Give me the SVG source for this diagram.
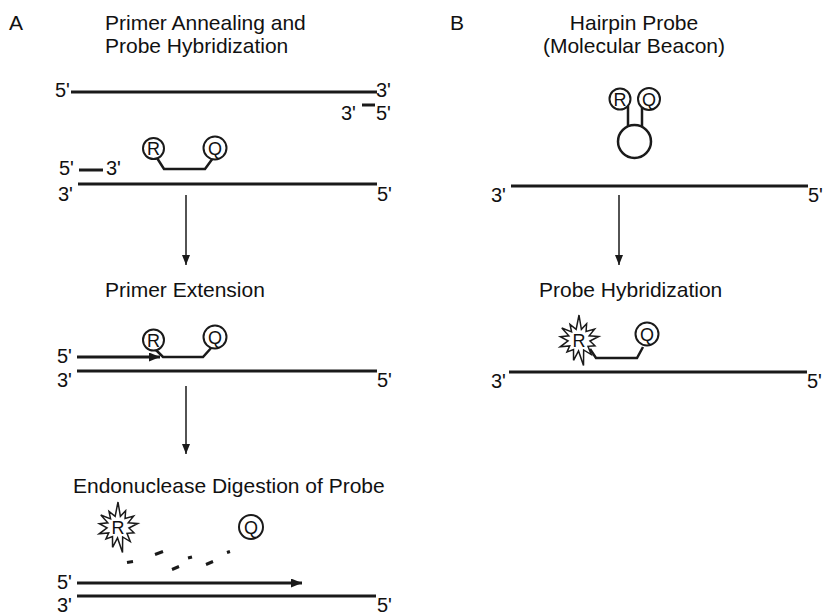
<svg xmlns="http://www.w3.org/2000/svg" width="825" height="613" viewBox="0 0 825 613">
<style>
text{font-family:"Liberation Sans",Arial,Helvetica,sans-serif;fill:#111;}
.t{font-size:21px;}
.l{font-size:20px;}
.c{font-size:18px;text-anchor:middle;}
.strand{stroke:#1a1a1a;stroke-width:3;fill:none;}
.probe{stroke:#1a1a1a;stroke-width:2.5;fill:none;stroke-linejoin:miter;}
.ring{stroke:#1a1a1a;stroke-width:2;fill:#fff;}
.arr{stroke:#1a1a1a;stroke-width:1.5;fill:none;}
.frag{stroke:#1a1a1a;stroke-width:3;fill:none;}
</style>
<defs>
<marker id="down" markerUnits="userSpaceOnUse" markerWidth="10" markerHeight="10" viewBox="0 0 10 8" refX="10" refY="4" orient="auto">
<path d="M0,0 L10,4 L0,8 z" fill="#1a1a1a"/>
</marker>
<marker id="prim" markerUnits="userSpaceOnUse" markerWidth="11" markerHeight="9" viewBox="0 0 11 9" refX="11" refY="4.5" orient="auto">
<path d="M0,0 L11,4.5 L0,9 z" fill="#1a1a1a"/>
</marker>
<polygon id="star" points="0,-25 2.38,-10.74 7.61,-16.31 7.07,-8.43 15.56,-10.9 10.16,-4.21 19.7,-3.47 10.96,0.96 15.97,5.81 9.01,6.31 12.21,14.55 4.65,9.97 4.51,25.61 -0.48,10.99 -5.44,20.28 -5.5,9.53 -12.02,12.02 -9.28,5.91 -18.79,6.84 -10.96,0.96 -18.71,-3.3 -10.16,-4.21 -17.2,-12.05 -7.43,-8.11 -9,-15.59 -2.85,-10.63" fill="#fff" stroke="#1a1a1a" stroke-width="1.5" stroke-linejoin="miter"/>
</defs>

<!-- Panel A -->
<g id="panelA-label"><text class="t" x="9" y="30">A</text></g>
<g id="stepA1-title">
<text class="t" x="105" y="30">Primer Annealing and</text>
<text class="t" x="105" y="53">Probe Hybridization</text>
</g>
<g id="stepA1">
<text class="l" x="55" y="97">5'</text>
<line class="strand" x1="71" y1="92" x2="377" y2="92"/>
<text class="l" x="376" y="97">3'</text>
<text class="l" x="341" y="120">3'</text>
<line class="strand" x1="362" y1="105" x2="375" y2="105"/>
<text class="l" x="376" y="120">5'</text>
<text class="l" x="59" y="175">5'</text>
<line class="strand" x1="79" y1="170" x2="103" y2="170"/>
<text class="l" x="106" y="175">3'</text>
<path class="probe" d="M157,158 L164,169 L205,169 L213,158"/>
<circle class="ring" cx="153.5" cy="148.5" r="10.5"/>
<text class="c" x="153.5" y="155">R</text>
<circle class="ring" cx="215" cy="148" r="11.5"/>
<text class="c" x="215" y="154.5">Q</text>
<line class="strand" x1="78" y1="184" x2="377" y2="184"/>
<text class="l" x="58" y="201">3'</text>
<text class="l" x="377" y="201">5'</text>
</g>
<g id="stepA2-title"><text class="t" x="105" y="297">Primer Extension</text></g>
<g id="stepA2">
<text class="l" x="57" y="363">5'</text>
<line class="strand" x1="77" y1="357" x2="160" y2="357" marker-end="url(#prim)"/>
<path class="probe" d="M155,349 L163,357 L203,357 L212,347"/>
<circle class="ring" cx="153.5" cy="340" r="10.5"/>
<text class="c" x="153.5" y="346.5">R</text>
<circle class="ring" cx="215" cy="337" r="11.5"/>
<text class="c" x="215" y="343.5">Q</text>
<line class="strand" x1="77" y1="371" x2="377" y2="371"/>
<text class="l" x="57" y="387">3'</text>
<text class="l" x="377" y="387">5'</text>
</g>
<g id="stepA3-title"><text class="t" x="73" y="493">Endonuclease Digestion of Probe</text></g>
<g id="stepA3">
<use href="#star" x="118" y="527"/>
<text class="c" x="118" y="533.5">R</text>
<circle class="ring" cx="251" cy="527" r="12"/>
<text class="c" x="251" y="533.5">Q</text>
<line class="frag" x1="127" y1="562.5" x2="133" y2="561.5"/>
<line class="frag" x1="155" y1="554.5" x2="163" y2="551.5"/>
<line class="frag" x1="172" y1="569.5" x2="179" y2="566.5"/>
<line class="frag" x1="188" y1="558" x2="192" y2="557"/>
<line class="frag" x1="206" y1="564.5" x2="213" y2="561.5"/>
<line class="frag" x1="227" y1="552.5" x2="230" y2="551.5"/>
<text class="l" x="57" y="589">5'</text>
<line class="strand" x1="77" y1="583" x2="302" y2="583" marker-end="url(#prim)"/>
<line class="strand" x1="77" y1="596" x2="376" y2="596"/>
<text class="l" x="57" y="612">3'</text>
<text class="l" x="377" y="612">5'</text>
</g>

<!-- Panel B -->
<g id="panelB-label"><text class="t" x="450" y="30">B</text></g>
<g id="stepB1-title">
<text class="t" x="634" y="30" text-anchor="middle">Hairpin Probe</text>
<text class="t" x="634" y="53" text-anchor="middle">(Molecular Beacon)</text>
</g>
<g id="stepB1">
<line class="probe" x1="628" y1="106" x2="628" y2="127"/>
<line class="probe" x1="642" y1="107" x2="642" y2="127"/>
<circle class="ring" cx="634.5" cy="141.5" r="16.5" style="stroke-width:2.5"/>
<circle class="ring" cx="620" cy="99" r="10.5"/>
<text class="c" x="620" y="105.5">R</text>
<circle class="ring" cx="649" cy="99" r="11"/>
<text class="c" x="649" y="105.5">Q</text>
<line class="strand" x1="511" y1="186" x2="808" y2="186"/>
<text class="l" x="491" y="202">3'</text>
<text class="l" x="808" y="202">5'</text>
</g>
<g id="stepB2-title"><text class="t" x="539" y="297">Probe Hybridization</text></g>
<g id="stepB2">
<path class="probe" d="M590,349 L596,358 L637,358 L643,347"/>
<use href="#star" x="579" y="340"/>
<text class="c" x="579" y="346.5">R</text>
<circle class="ring" cx="647" cy="334" r="11.5"/>
<text class="c" x="647" y="340.5">Q</text>
<line class="strand" x1="509" y1="372" x2="807" y2="372"/>
<text class="l" x="491" y="388">3'</text>
<text class="l" x="807" y="388">5'</text>
</g>

<!-- Connectors -->
<g id="connectors">
<line class="arr" x1="186" y1="195" x2="186" y2="265" marker-end="url(#down)"/>
<line class="arr" x1="186" y1="386" x2="186" y2="454" marker-end="url(#down)"/>
<line class="arr" x1="619" y1="195" x2="619" y2="265" marker-end="url(#down)"/>
</g>
</svg>
